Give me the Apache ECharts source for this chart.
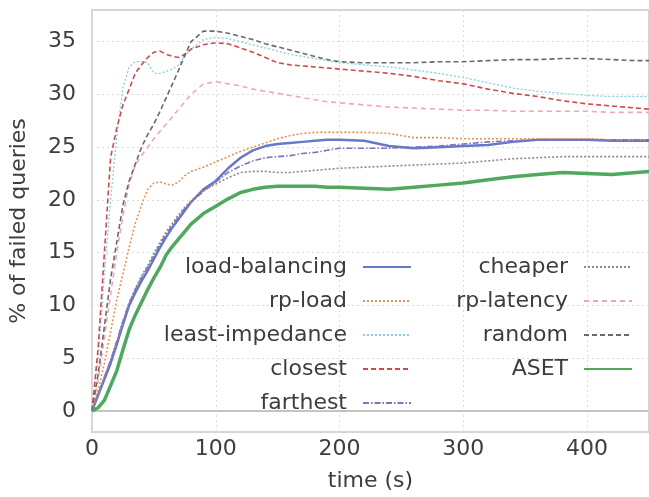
<!DOCTYPE html>
<html>
<head>
<meta charset="utf-8">
<script src="https://cdn.jsdelivr.net/npm/echarts@6/dist/echarts.min.js"></script>
<style>
  html, body { margin: 0; padding: 0; background: #fff; }
  #chart_line { width: 649px; height: 497px; }
</style>
</head>
<body>
<div id="chart_line"></div>
<script>
// time (s) samples shared by every curve
var times = [0, 5, 10, 15, 20, 25, 30, 35, 40, 45, 50, 55, 60, 65, 70, 75, 80, 90, 100, 110, 120, 130, 140, 150, 160, 170, 180, 190, 200, 220, 240, 260, 280, 300, 320, 340, 360, 380, 400, 420, 440, 450]

var loadBalancing = [0, 1.5, 3, 4.5, 6.3, 8.2, 10, 11.2, 12.3, 13.3, 14.4, 15.5, 16.5, 17.4, 18.2, 19, 19.8, 21, 21.8, 23, 24, 24.7, 25.1, 25.3, 25.4, 25.5, 25.6, 25.7, 25.7, 25.6, 25.1, 24.9, 25, 25.1, 25.2, 25.5, 25.7, 25.7, 25.7, 25.6, 25.6, 25.6]
var rpLoad = [0, 2, 4.5, 7.5, 10.5, 13, 15.5, 17.8, 19.5, 21, 21.6, 21.7, 21.5, 21.4, 21.7, 22.3, 22.7, 23.1, 23.6, 24.1, 24.6, 25, 25.4, 25.8, 26.1, 26.3, 26.4, 26.4, 26.4, 26.4, 26.3, 25.9, 25.9, 25.8, 25.8, 25.8, 25.8, 25.8, 25.8, 25.7, 25.7, 25.7]
var leastImpedance = [0, 5, 13, 20, 26, 30.6, 32.6, 33.1, 33.1, 33, 32, 32, 32.2, 32.4, 32.8, 33.6, 34.3, 35.2, 35.4, 35.3, 35, 34.7, 34.4, 34.1, 33.8, 33.6, 33.4, 33.2, 33, 32.8, 32.6, 32.3, 32, 31.6, 31.1, 30.6, 30.3, 30.1, 29.9, 29.8, 29.8, 29.8]
var closest = [0, 6, 15, 24, 26.8, 29, 30.5, 32, 32.8, 33.5, 34, 34.1, 33.8, 33.6, 33.5, 33.8, 34.3, 34.7, 34.9, 34.8, 34.4, 34, 33.5, 33, 32.8, 32.7, 32.6, 32.5, 32.4, 32.2, 32, 31.7, 31.3, 31, 30.5, 30.1, 29.8, 29.4, 29.1, 28.9, 28.7, 28.6]
var farthest = [0, 1.6, 3.2, 4.8, 6.6, 8.5, 10.2, 11.5, 12.6, 13.6, 14.7, 15.8, 16.8, 17.6, 18.4, 19.2, 19.8, 20.8, 21.7, 22.6, 23.2, 23.7, 24, 24.1, 24.2, 24.4, 24.5, 24.7, 24.9, 24.9, 24.9, 25, 25.1, 25.3, 25.5, 25.6, 25.7, 25.7, 25.7, 25.7, 25.7, 25.7]
var cheaper = [0, 1.5, 3.2, 4.8, 6.5, 8.5, 10.3, 11.6, 12.8, 13.8, 14.9, 16, 17, 17.8, 18.6, 19.3, 19.9, 20.9, 21.5, 22.1, 22.6, 22.7, 22.7, 22.6, 22.6, 22.7, 22.8, 22.9, 23, 23.1, 23.2, 23.3, 23.4, 23.5, 23.7, 23.9, 24, 24.1, 24.1, 24.1, 24.1, 24.1]
var rpLatency = [0, 3, 7, 11, 15, 18.5, 21.5, 23.3, 24.2, 25, 25.8, 26.5, 27.2, 27.9, 28.6, 29.3, 30, 31, 31.2, 31, 30.8, 30.5, 30.3, 30.1, 29.9, 29.7, 29.5, 29.3, 29.2, 29, 28.8, 28.7, 28.6, 28.5, 28.5, 28.4, 28.4, 28.4, 28.4, 28.3, 28.3, 28.3]
var random = [0, 3.5, 8, 12.5, 16, 19.5, 21.8, 23.4, 25, 26.2, 27.2, 28.4, 29.7, 31, 32.3, 33.7, 35, 36, 36, 35.8, 35.5, 35.2, 34.8, 34.5, 34.2, 33.9, 33.6, 33.3, 33.1, 33, 33, 33, 33.1, 33.1, 33.2, 33.3, 33.3, 33.4, 33.4, 33.3, 33.2, 33.2]
var aset = [0, 0.3, 1, 2.4, 3.8, 5.8, 7.7, 9.1, 10.3, 11.5, 12.6, 13.6, 14.8, 15.6, 16.3, 17, 17.7, 18.7, 19.4, 20.1, 20.7, 21, 21.2, 21.3, 21.3, 21.3, 21.3, 21.2, 21.2, 21.1, 21, 21.2, 21.4, 21.6, 21.9, 22.2, 22.4, 22.6, 22.5, 22.4, 22.6, 22.7]

var yTicks = [0, 5, 10, 15, 20, 25, 30, 35]
var legendLeft = ['load-balancing', 'rp-load', 'least-impedance', 'closest', 'farthest']
var legendRight = ['cheaper', 'rp-latency', 'random', 'ASET']

var font = 'DejaVu Sans'
var textColor = '#3d3d3d'

function pairs(values) {
  return times.map(function(t, i) { return [t, values[i]] })
}

function line(name, values, color, width, type) {
  return {
    name: name,
    type: 'line',
    symbol: 'none',
    smooth: false,
    lineStyle: { color: color, width: width, type: type },
    itemStyle: { color: color },
    data: pairs(values)
  }
}

function legend(names, right) {
  return {
    data: names,
    orient: 'vertical',
    align: 'right',
    right: right,
    top: 256,
    padding: 0,
    itemGap: 12,
    itemWidth: 48,
    itemHeight: 14,
    selectedMode: false,
    // hide the marker drawn on top of the line sample
    itemStyle: { color: 'transparent', borderColor: 'transparent', borderWidth: 0 },
    textStyle: {
      fontFamily: font,
      fontSize: 22,
      color: textColor,
      lineHeight: 20,
      padding: [0, 11, 0, 0]
    }
  }
}

var chart = echarts.init(document.getElementById('chart_line'))
chart.setOption({
  animation: false,
  backgroundColor: '#fff',
  grid: {
    left: 88,
    right: 0,
    top: 10,
    bottom: 65,
    show: true,
    borderColor: '#d6d6d6',
    borderWidth: 2
  },
  legend: [legend(legendLeft, 237), legend(legendRight, 16)],
  xAxis: {
    type: 'value',
    min: 0,
    max: 450,
    interval: 100,
    name: 'time (s)',
    nameLocation: 'middle',
    nameGap: 38,
    nameTextStyle: { fontFamily: font, fontSize: 22, color: textColor },
    axisLine: { lineStyle: { color: '#c4c4c4', width: 2 } },
    axisTick: { show: false },
    axisLabel: { fontFamily: font, fontSize: 22, color: textColor, margin: 6, showMaxLabel: false },
    splitLine: { lineStyle: { color: '#dcdcdc', type: [2, 3], width: 1 } }
  },
  yAxis: {
    type: 'value',
    min: -2,
    max: 38,
    name: '% of failed queries',
    nameLocation: 'middle',
    nameGap: 62,
    nameTextStyle: { fontFamily: font, fontSize: 22, color: textColor },
    axisLine: { show: false },
    axisTick: { show: false, customValues: yTicks },
    axisLabel: { fontFamily: font, fontSize: 22, color: textColor, margin: 16, customValues: yTicks },
    splitLine: { lineStyle: { color: '#dcdcdc', type: [2, 3], width: 1 } }
  },
  series: [
    line('load-balancing', loadBalancing, '#6679c8', 2.5, 'solid'),
    line('rp-load', rpLoad, '#e8914f', 1.6, [2, 2]),
    line('least-impedance', leastImpedance, '#86cfe0', 1.3, [2, 2]),
    line('closest', closest, '#cf4a4c', 1.6, [5, 3]),
    line('farthest', farthest, '#7f70c0', 1.6, [6, 2, 1.5, 2]),
    line('cheaper', cheaper, '#8a8a8a', 1.6, [2, 2]),
    line('rp-latency', rpLatency, '#f1a5b5', 1.6, [5, 4]),
    line('random', random, '#6a6a6a', 1.6, [5, 3]),
    line('ASET', aset, '#4fa85e', 3.5, 'solid')
  ]
})
</script>
</body>
</html>
